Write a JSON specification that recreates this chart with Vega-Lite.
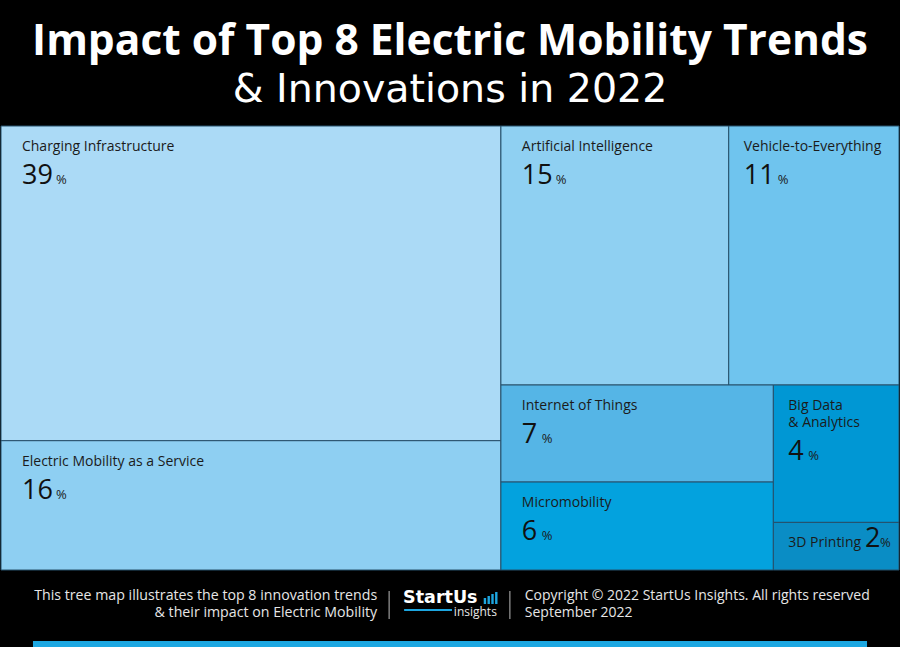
{
  "$schema": "https://vega.github.io/schema/vega-lite/v6.json",
  "width": 900,
  "height": 647,
  "autosize": {"type": "fit", "contains": "padding"},
  "padding": {"top": 20, "left": 0, "right": 0, "bottom": 0},
  "background": "#000000",
  "title": {
    "text": "Impact of Top 8 Electric Mobility Trends",
    "subtitle": "& Innovations in 2022",
    "anchor": "middle",
    "baseline": "top",
    "font": "Open Sans",
    "fontSize": 42.5,
    "fontWeight": "bold",
    "color": "#ffffff",
    "subtitleFont": "DejaVu Sans",
    "subtitleFontSize": 39.5,
    "subtitleFontWeight": "normal",
    "subtitleColor": "#ffffff",
    "subtitlePadding": 8.3,
    "offset": 15.7
  },
  "config": {"view": {"stroke": null}, "axis": {"disable": true}},
  "datasets": {
    "trends": [
      {"trend": "Charging Infrastructure", "share": 39.46, "g1": "A", "g2": "A-CI", "g3": "A-CI"},
      {"trend": "Electric Mobility as a Service", "share": 16.21, "g1": "A", "g2": "A-EMaaS", "g3": "A-EMaaS"},
      {"trend": "Artificial Intelligence", "share": 14.8, "g1": "B", "g2": "B-top", "g3": "B-AI"},
      {"trend": "Vehicle-to-Everything", "share": 11.06, "g1": "B", "g2": "B-top", "g3": "B-V2X"},
      {"trend": "Internet of Things", "share": 6.63, "g1": "B", "g2": "B-bottom", "g3": "B-bottom-left"},
      {"trend": "Micromobility", "share": 6.01, "g1": "B", "g2": "B-bottom", "g3": "B-bottom-left"},
      {"trend": "Big Data\n& Analytics", "share": 4.33, "g1": "B", "g2": "B-bottom", "g3": "B-bottom-right"},
      {"trend": "3D Printing", "share": 1.5, "g1": "B", "g2": "B-bottom", "g3": "B-bottom-right"}
    ]
  },
  "layer": [
    {
      "data": {"name": "trends"},
      "transform": [
        {"window": [{"op": "sum", "field": "share", "as": "cum"}], "sort": [{"field": "share", "order": "descending"}], "frame": [null, 0]},
        {"calculate": "datum.cum - datum.share", "as": "start"},
        {"joinaggregate": [{"op": "min", "field": "start", "as": "s1"}, {"op": "max", "field": "cum", "as": "e1"}], "groupby": ["g1"]},
        {"joinaggregate": [{"op": "min", "field": "start", "as": "s2"}, {"op": "max", "field": "cum", "as": "e2"}], "groupby": ["g2"]},
        {"joinaggregate": [{"op": "min", "field": "start", "as": "s3"}, {"op": "max", "field": "cum", "as": "e3"}], "groupby": ["g3"]},
        {"joinaggregate": [{"op": "sum", "field": "share", "as": "total"}]},
        {"calculate": "datum.s1 / datum.total", "as": "X0"},
        {"calculate": "datum.e1 / datum.total", "as": "X1"},
        {"calculate": "(datum.s2 - datum.s1) / (datum.e1 - datum.s1)", "as": "Y0"},
        {"calculate": "(datum.e2 - datum.s1) / (datum.e1 - datum.s1)", "as": "Y1"},
        {"calculate": "datum.X0 + (datum.X1 - datum.X0) * (datum.s3 - datum.s2) / (datum.e2 - datum.s2)", "as": "x0"},
        {"calculate": "datum.X0 + (datum.X1 - datum.X0) * (datum.e3 - datum.s2) / (datum.e2 - datum.s2)", "as": "x1"},
        {"calculate": "datum.Y0 + (datum.Y1 - datum.Y0) * (datum.start - datum.s3) / (datum.e3 - datum.s3)", "as": "y0"},
        {"calculate": "datum.Y0 + (datum.Y1 - datum.Y0) * (datum.cum - datum.s3) / (datum.e3 - datum.s3)", "as": "y1"},
        {"calculate": "format(datum.share, '.0f')", "as": "num"},
        {"calculate": "datum.trend === '3D Printing'", "as": "inline"},
        {"calculate": "length(split(datum.trend, '\\n'))", "as": "nlines"},
        {"calculate": "(datum.x1 - datum.x0) > 0.25 ? 21 : 15", "as": "pad"},
        {"calculate": "datum.x0 + datum.pad / 900", "as": "lx"},
        {"calculate": "datum.y0 + 25 / 444", "as": "ly"},
        {"calculate": "datum.inline ? datum.x1 - 34 / 900 : datum.lx", "as": "nx"},
        {"calculate": "datum.inline ? datum.ly : datum.y0 + (58 + (datum.nlines - 1) * 17) / 444", "as": "ny"},
        {"calculate": "datum.inline ? datum.x1 - 19 / 900 : datum.lx + (length(datum.num) * 14 + 6) / 900", "as": "px"}
      ],
      "layer": [
        {
          "mark": {"type": "rect", "stroke": "#27506b", "strokeWidth": 1},
          "encoding": {
            "x": {"field": "x0", "type": "quantitative", "scale": {"domain": [0, 1], "nice": false, "zero": false}, "axis": null},
            "x2": {"field": "x1"},
            "y": {"field": "y0", "type": "quantitative", "scale": {"domain": [0, 1.173423], "nice": false, "zero": false, "reverse": true}, "axis": null},
            "y2": {"field": "y1"},
            "color": {
              "field": "trend",
              "type": "nominal",
              "legend": null,
              "scale": {
                "domain": ["Charging Infrastructure", "Electric Mobility as a Service", "Artificial Intelligence", "Vehicle-to-Everything", "Internet of Things", "Micromobility", "Big Data\n& Analytics", "3D Printing"],
                "range": ["#abdaf6", "#8ecff2", "#8fd0f2", "#6fc4ee", "#55b5e6", "#03a2de", "#0097d4", "#0a8dc5"]
              }
            }
          }
        },
        {
          "mark": {"type": "text", "align": "left", "baseline": "alphabetic", "font": "Open Sans", "fontSize": 14, "color": "#1b1b1b", "lineBreak": "\n", "lineHeight": 17},
          "encoding": {
            "x": {"field": "lx", "type": "quantitative", "scale": {"domain": [0, 1], "nice": false, "zero": false}, "axis": null},
            "y": {"field": "ly", "type": "quantitative", "scale": {"domain": [0, 1.173423], "nice": false, "zero": false, "reverse": true}, "axis": null},
            "text": {"field": "trend"}
          }
        },
        {
          "mark": {"type": "text", "align": "left", "baseline": "alphabetic", "font": "Open Sans", "fontSize": 27, "color": "#111111"},
          "encoding": {
            "x": {"field": "nx", "type": "quantitative", "scale": {"domain": [0, 1], "nice": false, "zero": false}, "axis": null},
            "y": {"field": "ny", "type": "quantitative", "scale": {"domain": [0, 1.173423], "nice": false, "zero": false, "reverse": true}, "axis": null},
            "text": {"field": "num"}
          }
        },
        {
          "mark": {"type": "text", "align": "left", "baseline": "alphabetic", "font": "Open Sans", "fontSize": 13, "color": "#1b1b1b"},
          "encoding": {
            "x": {"field": "px", "type": "quantitative", "scale": {"domain": [0, 1], "nice": false, "zero": false}, "axis": null},
            "y": {"field": "ny", "type": "quantitative", "scale": {"domain": [0, 1.173423], "nice": false, "zero": false, "reverse": true}, "axis": null},
            "text": {"value": "%"}
          }
        }
      ]
    },
    {
      "data": {"values": [{"note": "This tree map illustrates the top 8 innovation trends\n& their impact on Electric Mobility"}]},
      "mark": {"type": "text", "align": "right", "baseline": "alphabetic", "font": "Open Sans", "fontSize": 14.2, "color": "#e6e6e6", "lineBreak": "\n", "lineHeight": 16.7},
      "encoding": {
        "x": {"datum": 0.4189, "type": "quantitative", "scale": {"domain": [0, 1], "nice": false, "zero": false}, "axis": null},
        "y": {"datum": 1.0676, "type": "quantitative", "scale": {"domain": [0, 1.173423], "nice": false, "zero": false, "reverse": true}, "axis": null},
        "text": {"field": "note"}
      }
    },
    {
      "data": {"values": [{"note": "Copyright © 2022 StartUs Insights. All rights reserved\nSeptember 2022"}]},
      "mark": {"type": "text", "align": "left", "baseline": "alphabetic", "font": "Open Sans", "fontSize": 14, "color": "#e6e6e6", "lineBreak": "\n", "lineHeight": 16.7},
      "encoding": {
        "x": {"datum": 0.5833, "type": "quantitative", "scale": {"domain": [0, 1], "nice": false, "zero": false}, "axis": null},
        "y": {"datum": 1.0676, "type": "quantitative", "scale": {"domain": [0, 1.173423], "nice": false, "zero": false, "reverse": true}, "axis": null},
        "text": {"field": "note"}
      }
    },
    {
      "data": {"values": [{"pos": 0.4322}, {"pos": 0.5667}]},
      "mark": {"type": "rule", "color": "#bbbbbb", "strokeWidth": 1},
      "encoding": {
        "x": {"field": "pos", "type": "quantitative", "scale": {"domain": [0, 1], "nice": false, "zero": false}, "axis": null},
        "y": {"datum": 1.0473, "type": "quantitative", "scale": {"domain": [0, 1.173423], "nice": false, "zero": false, "reverse": true}, "axis": null},
        "y2": {"datum": 1.1104}
      }
    },
    {
      "data": {"values": [{"brand": "StartUs"}]},
      "mark": {"type": "text", "align": "left", "baseline": "alphabetic", "font": "DejaVu Sans", "fontWeight": "bold", "fontSize": 17.5, "color": "#ffffff"},
      "encoding": {
        "x": {"datum": 0.4478, "type": "quantitative", "scale": {"domain": [0, 1], "nice": false, "zero": false}, "axis": null},
        "y": {"datum": 1.0743, "type": "quantitative", "scale": {"domain": [0, 1.173423], "nice": false, "zero": false, "reverse": true}, "axis": null},
        "text": {"field": "brand"}
      }
    },
    {
      "data": {"values": [{"brand": "insights"}]},
      "mark": {"type": "text", "align": "right", "baseline": "alphabetic", "font": "Open Sans", "fontSize": 12, "color": "#e6e6e6"},
      "encoding": {
        "x": {"datum": 0.5522, "type": "quantitative", "scale": {"domain": [0, 1], "nice": false, "zero": false}, "axis": null},
        "y": {"datum": 1.1036, "type": "quantitative", "scale": {"domain": [0, 1.173423], "nice": false, "zero": false, "reverse": true}, "axis": null},
        "text": {"field": "brand"}
      }
    },
    {
      "data": {"values": [{"part": "underline"}]},
      "mark": {"type": "rule", "color": "#1da6e0", "strokeWidth": 2},
      "encoding": {
        "x": {"datum": 0.4489, "type": "quantitative", "scale": {"domain": [0, 1], "nice": false, "zero": false}, "axis": null},
        "x2": {"datum": 0.5022},
        "y": {"datum": 1.0901, "type": "quantitative", "scale": {"domain": [0, 1.173423], "nice": false, "zero": false, "reverse": true}, "axis": null}
      }
    },
    {
      "data": {"values": [{"bar": 1}, {"bar": 2}, {"bar": 3}, {"bar": 4}]},
      "transform": [
        {"calculate": "(485 + (datum.bar - 1) * 3.8) / 900", "as": "bx"},
        {"calculate": "(604 - 126) / 444", "as": "by"},
        {"calculate": "(604 - 126 - 4 - datum.bar * 2) / 444", "as": "by2"}
      ],
      "mark": {"type": "rule", "color": "#1da6e0", "strokeWidth": 2.4},
      "encoding": {
        "x": {"field": "bx", "type": "quantitative", "scale": {"domain": [0, 1], "nice": false, "zero": false}, "axis": null},
        "y": {"field": "by", "type": "quantitative", "scale": {"domain": [0, 1.173423], "nice": false, "zero": false, "reverse": true}, "axis": null},
        "y2": {"field": "by2"}
      }
    },
    {
      "data": {"values": [{"part": "band"}]},
      "mark": {"type": "rect", "color": "#1ca7e1"},
      "encoding": {
        "x": {"datum": 0.0356, "type": "quantitative", "scale": {"domain": [0, 1], "nice": false, "zero": false}, "axis": null},
        "x2": {"datum": 0.9644},
        "y": {"datum": 1.16, "type": "quantitative", "scale": {"domain": [0, 1.173423], "nice": false, "zero": false, "reverse": true}, "axis": null},
        "y2": {"datum": 1.173423}
      }
    }
  ]
}
